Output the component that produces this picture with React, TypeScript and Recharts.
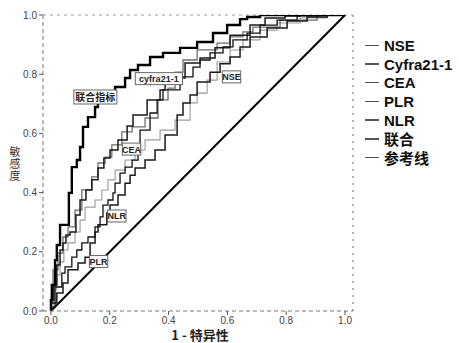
import { LineChart, Line, XAxis, YAxis, ReferenceLine, ReferenceDot } from 'recharts';

type Pt = [number, number];

const X_TICKS = [0, 0.2, 0.4, 0.6, 0.8, 1];
const Y_TICKS = [0, 0.2, 0.4, 0.6, 0.8, 1];

// 1 - 特异性, 敏感度 pairs
const combined: Pt[] = [
  [0, 0], [0.003, 0.037], [0.014, 0.088], [0.02, 0.172], [0.031, 0.223], [0.041, 0.291],
  [0.061, 0.291], [0.071, 0.399], [0.088, 0.486], [0.099, 0.51], [0.109, 0.554], [0.126, 0.622],
  [0.15, 0.655], [0.16, 0.689], [0.2, 0.706], [0.218, 0.736], [0.252, 0.757], [0.269, 0.787],
  [0.296, 0.814], [0.337, 0.831], [0.381, 0.858], [0.439, 0.872], [0.497, 0.889], [0.551, 0.909],
  [0.599, 0.939], [0.643, 0.966], [0.667, 0.986], [0.711, 0.993], [0.755, 1], [1, 1],
];

const cyfra: Pt[] = [
  [0, 0], [0.01, 0.037], [0.02, 0.088], [0.031, 0.155], [0.041, 0.206], [0.051, 0.23],
  [0.065, 0.257], [0.085, 0.267], [0.099, 0.324], [0.119, 0.375], [0.139, 0.409], [0.16, 0.443],
  [0.18, 0.483], [0.201, 0.517], [0.228, 0.544], [0.259, 0.578], [0.279, 0.625], [0.327, 0.662],
  [0.371, 0.713], [0.388, 0.747], [0.415, 0.774], [0.456, 0.787], [0.507, 0.838], [0.558, 0.855],
  [0.609, 0.889], [0.677, 0.932], [0.728, 0.966], [0.796, 0.99], [0.847, 0.997], [1, 1],
];

const cea: Pt[] = [
  [0, 0], [0.007, 0.027], [0.024, 0.139], [0.041, 0.196], [0.058, 0.25], [0.082, 0.284],
  [0.105, 0.341], [0.139, 0.409], [0.16, 0.453], [0.184, 0.5], [0.207, 0.52], [0.241, 0.561],
  [0.276, 0.605], [0.32, 0.622], [0.364, 0.652], [0.398, 0.713], [0.422, 0.753], [0.449, 0.807],
  [0.497, 0.848], [0.565, 0.882], [0.609, 0.905], [0.653, 0.926], [0.687, 0.943], [0.779, 0.959],
  [0.905, 0.983], [1, 1],
];

const nse: Pt[] = [
  [0, 0], [0.007, 0.02], [0.02, 0.071], [0.031, 0.122], [0.044, 0.166], [0.058, 0.206],
  [0.082, 0.23], [0.099, 0.267], [0.116, 0.307], [0.15, 0.351], [0.173, 0.375], [0.194, 0.409],
  [0.218, 0.443], [0.252, 0.476], [0.286, 0.51], [0.32, 0.544], [0.371, 0.578], [0.422, 0.611],
  [0.473, 0.645], [0.497, 0.703], [0.531, 0.736], [0.565, 0.78], [0.609, 0.841], [0.653, 0.882],
  [0.711, 0.916], [0.769, 0.949], [0.847, 0.973], [0.939, 0.99], [1, 1],
];

const nlr: Pt[] = [
  [0, 0], [0.014, 0.014], [0.037, 0.081], [0.048, 0.128], [0.071, 0.149], [0.088, 0.182],
  [0.105, 0.206], [0.126, 0.23], [0.15, 0.25], [0.167, 0.284], [0.177, 0.318], [0.194, 0.358],
  [0.211, 0.375], [0.218, 0.399], [0.235, 0.432], [0.252, 0.466], [0.276, 0.486], [0.296, 0.51],
  [0.303, 0.544], [0.337, 0.611], [0.361, 0.669], [0.381, 0.713], [0.439, 0.747], [0.483, 0.791],
  [0.507, 0.824], [0.541, 0.848], [0.585, 0.872], [0.619, 0.892], [0.667, 0.916], [0.711, 0.939],
  [0.769, 0.966], [0.837, 0.983], [0.915, 0.997], [1, 1],
];

const plr: Pt[] = [
  [0, 0], [0.02, 0.027], [0.041, 0.061], [0.058, 0.095], [0.092, 0.139], [0.116, 0.162],
  [0.133, 0.182], [0.15, 0.23], [0.16, 0.267], [0.19, 0.291], [0.201, 0.331], [0.228, 0.358],
  [0.252, 0.392], [0.269, 0.432], [0.286, 0.459], [0.32, 0.483], [0.354, 0.51], [0.388, 0.544],
  [0.429, 0.595], [0.449, 0.662], [0.473, 0.703], [0.497, 0.73], [0.541, 0.774], [0.575, 0.807],
  [0.609, 0.835], [0.643, 0.858], [0.677, 0.892], [0.735, 0.926], [0.803, 0.956], [0.871, 0.98],
  [0.939, 0.993], [1, 1],
];

const reference: Pt[] = [[0, 0], [1, 1]];

const LEGEND_NAMES = ['NSE', 'Cyfra21-1', 'CEA', 'PLR', 'NLR', '联合', '参考线'];

// tags drawn on the curves
const TAG_TEXT = ['联合指标', 'cyfra21-1', 'NSE', 'CEA', 'NLR', 'PLR'];
const TAG_X = [0.151, 0.367, 0.614, 0.274, 0.224, 0.162];
const TAG_Y = [0.723, 0.785, 0.791, 0.547, 0.321, 0.167];

const toRows = (pts: Pt[]) => pts.map(([x, y]) => ({ x, y }));

const fmt = (v: number) => v.toFixed(1);

function CurveTag({ cx, cy, text }: { cx: number; cy: number; text: string }) {
  const cjk = /[\u4e00-\u9fff]/.test(text);
  const w = cjk ? text.length * 10 + 3 : text.length * 4.8 + 4;
  const h = cjk ? 14 : 12;
  return (
    <g>
      <rect x={cx - w / 2} y={cy - h / 2} width={w} height={h} fill="#fff" stroke="#666" strokeWidth={1} />
      <text
        x={cx}
        y={cy + (cjk ? 4 : 3.5)}
        textAnchor="middle"
        fontSize={cjk ? 10 : 9}
        fontWeight="bold"
        fill="#222"
        fontFamily={cjk ? '"Noto Sans CJK SC", sans-serif' : '"Liberation Sans", Arial, sans-serif'}
      >
        {text}
      </text>
    </g>
  );
}

export default function App() {
  const series = [
    { key: 'nse', data: nse, stroke: '#9a9a9a', width: 1.1 },
    { key: 'cea', data: cea, stroke: '#6e6e6e', width: 1.3 },
    { key: 'plr', data: plr, stroke: '#1a1a1a', width: 1.5 },
    { key: 'nlr', data: nlr, stroke: '#111', width: 1.3 },
    { key: 'cyfra', data: cyfra, stroke: '#1a1a1a', width: 1.5 },
    { key: 'combined', data: combined, stroke: '#000', width: 2.4 },
  ];

  return (
    <div
      style={{
        position: 'absolute',
        left: 0,
        top: 0,
        width: 459,
        height: 343,
        background: '#fff',
        fontFamily: '"Liberation Sans", Arial, sans-serif',
      }}
    >
      <LineChart width={459} height={343} margin={{ top: 15, right: 106, bottom: 2, left: 13 }}>
        <XAxis
          type="number"
          dataKey="x"
          domain={[-0.027, 1.027]}
          ticks={X_TICKS}
          tickFormatter={fmt}
          allowDataOverflow
          height={30}
          tickSize={4}
          axisLine={{ stroke: '#777', strokeDasharray: '4 3' }}
          tickLine={{ stroke: '#555' }}
          tick={{ fontSize: 10, fill: '#444' }}
        />
        <YAxis
          type="number"
          dataKey="y"
          domain={[0, 1]}
          ticks={Y_TICKS}
          tickFormatter={fmt}
          allowDataOverflow
          width={30}
          tickSize={4}
          axisLine={{ stroke: '#777', strokeDasharray: '4 3' }}
          tickLine={{ stroke: '#555' }}
          tick={{ fontSize: 10, fill: '#444' }}
        />
        <ReferenceLine y={1} stroke="#999" strokeDasharray="3 4" />
        <ReferenceLine x={1.027} stroke="#999" strokeDasharray="2 5" strokeWidth={1.5} />
        <Line
          data={toRows(reference)}
          dataKey="y"
          type="linear"
          stroke="#000"
          strokeWidth={2}
          dot={false}
          isAnimationActive={false}
        />
        {series.map((s) => (
          <Line
            key={s.key}
            data={toRows(s.data)}
            dataKey="y"
            type="stepBefore"
            stroke={s.stroke}
            strokeWidth={s.width}
            dot={false}
            isAnimationActive={false}
          />
        ))}
        {TAG_TEXT.map((t, i) => (
          <ReferenceDot
            key={t}
            x={TAG_X[i]}
            y={TAG_Y[i]}
            r={0}
            shape={(p: any) => <CurveTag cx={p.cx} cy={p.cy} text={t} />}
          />
        ))}
      </LineChart>

      <div
        style={{
          position: 'absolute',
          left: 8,
          top: 146,
          writingMode: 'vertical-rl',
          textOrientation: 'upright',
          fontSize: 11,
          lineHeight: '14px',
          letterSpacing: 1,
          color: '#333',
          fontFamily: '"Noto Sans CJK SC", sans-serif',
        }}
      >
        敏感度
      </div>
      <div
        style={{
          position: 'absolute',
          left: 150,
          width: 100,
          top: 328,
          height: 14,
          lineHeight: '14px',
          textAlign: 'center',
          fontSize: 13,
          fontWeight: 'bold',
          color: '#222',
          fontFamily: '"Noto Sans CJK SC", sans-serif',
          whiteSpace: 'nowrap',
        }}
      >
        1 - 特异性
      </div>

      <div style={{ position: 'absolute', left: 365, top: 36 }}>
        {LEGEND_NAMES.map((n) => (
          <div key={n} style={{ display: 'flex', alignItems: 'center', height: 18.7 }}>
            <span style={{ display: 'inline-block', width: 14, height: 1.5, background: '#555', marginRight: 5 }} />
            <span
              style={{
                fontSize: 15,
                fontWeight: 'bold',
                color: '#111',
                fontFamily: '"Liberation Sans", "Noto Sans CJK SC", sans-serif',
                whiteSpace: 'nowrap',
              }}
            >
              {n}
            </span>
          </div>
        ))}
      </div>
    </div>
  );
}
